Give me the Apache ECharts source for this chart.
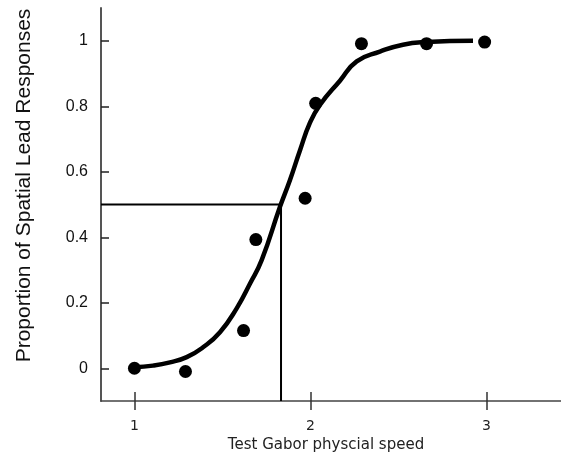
<!DOCTYPE html>
<html>
<head>
<meta charset="utf-8">
<script src="https://cdn.jsdelivr.net/npm/echarts@6/dist/echarts.min.js"></script>
<style>
  html, body { margin: 0; padding: 0; background: #fff; }
  #chart { width: 561px; height: 457px; }
</style>
</head>
<body>
<div id="chart"></div>
<script>
  // tick labels
  var speedTicks = [1, 2, 3]
  var proportionTicks = [0, 0.2, 0.4, 0.6, 0.8, 1]

  // measured points
  var pointSpeed = [1.0, 1.29, 1.62, 1.69, 1.97, 2.03, 2.29, 2.66, 2.99]
  var pointProportion = [0.0, -0.01, 0.115, 0.393, 0.519, 0.809, 0.991, 0.991, 0.996]

  // fitted curve
  var fitSpeed = [1.0, 1.105, 1.202, 1.297, 1.39, 1.486, 1.581, 1.657, 1.723, 1.827, 1.884, 1.941, 1.997, 2.054, 2.168, 2.263, 2.395, 2.526, 2.661, 2.924]
  var fitProportion = [0.003, 0.008, 0.018, 0.034, 0.064, 0.11, 0.183, 0.259, 0.33, 0.493, 0.575, 0.666, 0.749, 0.804, 0.878, 0.937, 0.967, 0.988, 0.996, 1.0]

  // 50% point
  var halfSpeed = 1.833
  var halfLevel = 0.5

  var xMin = 0.81
  var xMax = 3.424
  var yMin = -0.1
  var yMax = 1.1

  var points = pointSpeed.map(function (s, i) { return [s, pointProportion[i]] })
  var fit = fitSpeed.map(function (s, i) { return [s, fitProportion[i]] })
  var guide = [[xMin, halfLevel], [halfSpeed, halfLevel], [halfSpeed, yMin]]

  var myChart = echarts.init(document.getElementById('chart'))
  var option = {
    animation: false,
    grid: {
      left: 101,
      right: 0,
      top: 8,
      bottom: 56,
      outerBoundsMode: 'none'
    },
    xAxis: [
      {
        type: 'value',
        min: xMin,
        max: xMax,
        name: 'Test Gabor physcial speed',
        nameLocation: 'middle',
        nameGap: 36,
        nameTextStyle: {
          fontFamily: 'DejaVu Sans',
          fontSize: 15,
          color: '#222',
          padding: [0, 10, 0, 0]
        },
        axisLine: { onZero: false, lineStyle: { color: '#444', width: 1.5 } },
        axisTick: {
          inside: true,
          length: 9,
          customValues: speedTicks,
          lineStyle: { color: '#333', width: 1.5 }
        },
        axisLabel: {
          customValues: speedTicks,
          margin: 18,
          fontFamily: 'DejaVu Sans',
          fontSize: 14,
          color: '#222'
        },
        splitLine: { show: false }
      },
      {
        type: 'value',
        position: 'bottom',
        min: xMin,
        max: xMax,
        axisLine: { show: false, onZero: false },
        axisTick: {
          inside: false,
          length: 9,
          customValues: speedTicks,
          lineStyle: { color: '#333', width: 1.5 }
        },
        axisLabel: { show: false },
        splitLine: { show: false }
      }
    ],
    yAxis: {
      type: 'value',
      min: yMin,
      max: yMax,
      name: 'Proportion of Spatial Lead Responses',
      nameLocation: 'middle',
      nameGap: 66,
      nameTextStyle: {
        fontFamily: 'Liberation Sans, Arial, sans-serif',
        fontSize: 21,
        color: '#111',
        padding: [0, 0, 0, 38]
      },
      axisLine: { onZero: false, lineStyle: { color: '#555', width: 2 } },
      axisTick: {
        inside: true,
        length: 8,
        customValues: proportionTicks,
        lineStyle: { color: '#222', width: 1.5 }
      },
      axisLabel: {
        customValues: proportionTicks,
        margin: 13,
        fontFamily: 'Liberation Sans, Arial, sans-serif',
        fontSize: 16,
        color: '#111'
      },
      splitLine: { show: false }
    },
    series: [
      {
        name: 'guide',
        type: 'line',
        data: guide,
        symbol: 'none',
        lineStyle: { color: '#000', width: 2 },
        z: 1
      },
      {
        name: 'fit',
        type: 'line',
        data: fit,
        smooth: 0.5,
        symbol: 'none',
        lineStyle: { color: '#000', width: 4.5 },
        z: 2
      },
      {
        name: 'data',
        type: 'scatter',
        data: points,
        symbol: 'circle',
        symbolSize: 13,
        itemStyle: { color: '#000', opacity: 1 },
        z: 3
      }
    ]
  }
  myChart.setOption(option)
</script>
</body>
</html>
